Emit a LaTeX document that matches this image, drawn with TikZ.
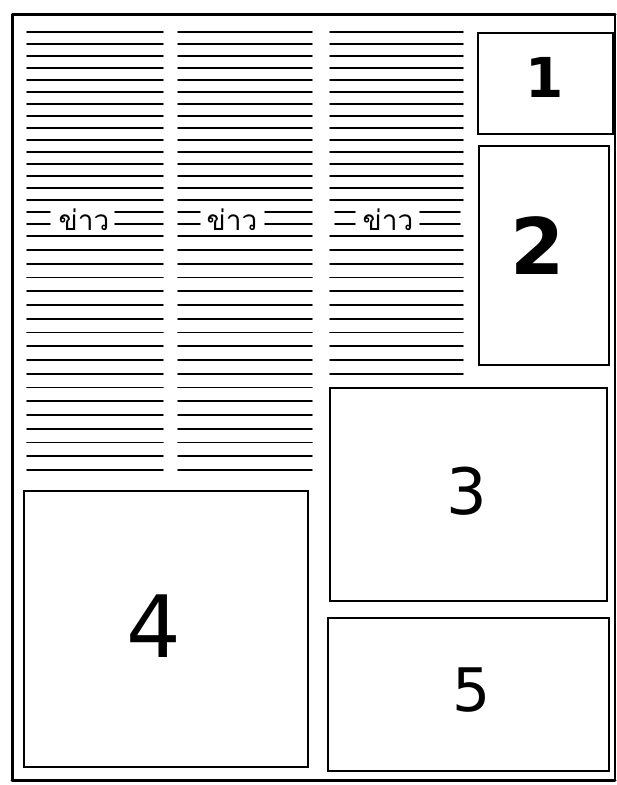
\documentclass[tikz,border=0pt]{standalone}
\usepackage{fontspec}
\setmainfont{DejaVu Sans}
\newfontfamily\thaifont[Script=Thai]{Loma}
\begin{document}
\begin{tikzpicture}[x=1pt,y=-1pt,
  textline/.style={line width=1.7pt, line cap=round},
  frameline/.style={line width=3pt, line cap=round, line join=round},
  panel/.style={draw, line width=1.6pt, inner sep=0pt, anchor=north west},
  num/.style={inner sep=0pt},
  headline/.style={inner sep=0pt, font=\thaifont\fontsize{28}{28}\selectfont}]
\useasboundingbox (0,0) rectangle (617,785);
% outer frame
\draw[frameline] (12,780) -- (12,14) -- (615,14);
\draw[frameline] (12,780) -- (615,780);
\draw[line width=1.2pt] (615,14) -- (615,780);
% text columns: upper rows
\foreach \xa/\xb in {27/163,178/312,330/463}{
  \foreach \k in {0,...,14,17}{
    \draw[textline] (\xa,32+12*\k) -- (\xb,32+12*\k);
  }
}
% split rows around headlines
\foreach \xa/\xl/\xr/\xb in {27/50/115/163,178/200/265/312,335/355/420/460}{
  \foreach \k in {15,16}{
    \draw[textline] (\xa,32+12*\k) -- (\xl,32+12*\k);
    \draw[textline] (\xr,32+12*\k) -- (\xb,32+12*\k);
  }
}
% lower rows
\foreach \xa/\xb/\n in {27/163/16,178/312/16,330/463/9}{
  \foreach \j in {0,...,\n}{
    \draw[textline] (\xa,250+13.75*\j) -- (\xb,250+13.75*\j);
  }
}
% headlines
\node[headline] (h1) at (84,220) {ข่าว};
\node[headline] (h2) at (232,220) {ข่าว};
\node[headline] (h3) at (388,220) {ข่าว};
% panels
\node[panel, minimum width=135pt, minimum height=101pt] (p1) at (477,32) {};
\node[panel, minimum width=130pt, minimum height=219pt] (p2) at (478,145) {};
\node[panel, minimum width=277pt, minimum height=213pt] (p3) at (329,387) {};
\node[panel, minimum width=284pt, minimum height=276pt] (p4) at (23,490) {};
\node[panel, minimum width=281pt, minimum height=153pt] (p5) at (327,617) {};
% numbers
\node[num, font={\bfseries\fontsize{55}{55}\selectfont}] (n1) at (545,77) {1};
\node[num, font={\bfseries\fontsize{78}{78}\selectfont}] (n2) at (538,246) {2};
\node[num, font={\fontsize{64}{64}\selectfont}] (n3) at (467,491) {3};
\node[num, font={\fontsize{86}{86}\selectfont}] (n4) at (154,626) {4};
\node[num, font={\fontsize{60}{60}\selectfont}] (n5) at (472,690) {5};
\end{tikzpicture}
\end{document}
